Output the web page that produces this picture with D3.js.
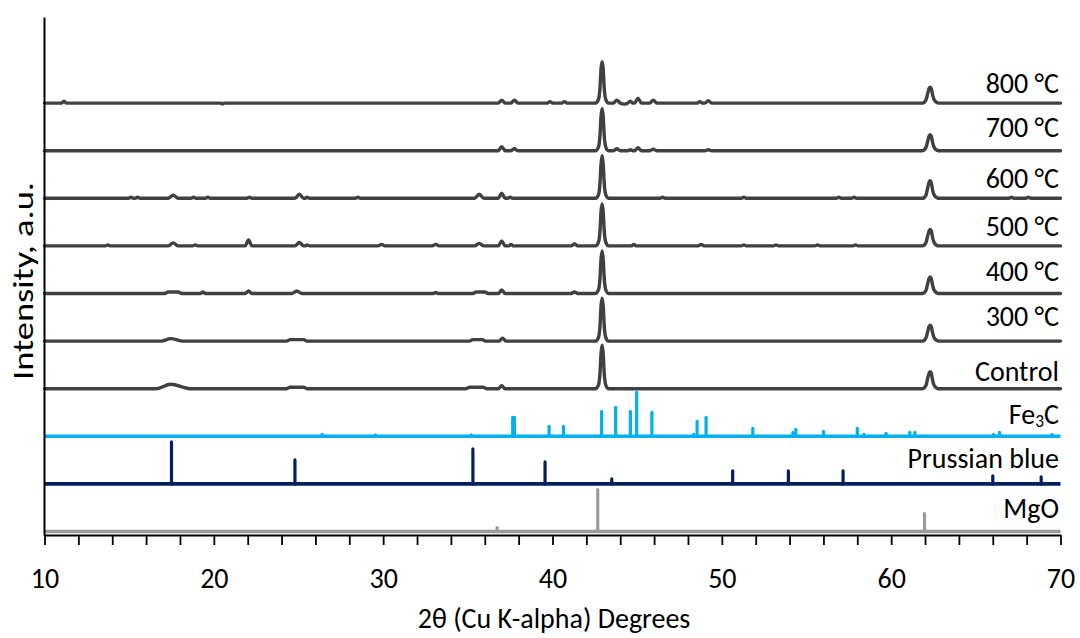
<!DOCTYPE html>
<html>
<head>
<meta charset="utf-8">
<script src="https://cdn.jsdelivr.net/npm/d3@7"></script>
<style>
  html, body { margin: 0; padding: 0; background: #ffffff; }
  svg { display: block; }
  text { font-family: Carlito, Calibri, Lato, "Noto Sans", sans-serif; fill: #000; }
</style>
</head>
<body>
<svg id="chart" width="1080" height="638"></svg>
<script>
// ---------------- DATA ----------------
const xTickLabels = [10, 20, 30, 40, 50, 60, 70];
const xTitle = "2θ (Cu K-alpha) Degrees";
const yTitle = "Intensity, a.u.";

// measured patterns, top to bottom: [2θ, intensity above the pattern's own baseline]
const traceNames = ["800 °C", "700 °C", "600 °C", "500 °C", "400 °C", "300 °C", "Control"];

const trace800 = [[10,0],[11.0,0],[11.15,2],[11.3,0],[20.4,0],[20.5,-1],[20.6,0],[36.8,0],[37.0,3],[37.2,0],[37.55,0],[37.75,3],[37.95,0],[39.7,0],[39.85,1.5],[40.0,0],[40.55,0],[40.7,1.5],[40.85,0],[42.55,0],[42.72,4],[42.8,14],[42.87,35],[42.93,41.5],[42.99,35],[43.06,14],[43.14,4],[43.3,0],[43.6,0],[43.8,3],[44.0,0],[44.25,-1],[44.45,0],[44.6,2],[44.75,0],[44.85,0],[45.05,5],[45.25,0],[45.75,0],[45.95,3],[46.15,0],[48.55,0],[48.7,1.5],[48.85,0],[49.0,0],[49.2,2.5],[49.4,0],[61.85,0],[62.05,3],[62.15,9],[62.25,15],[62.3,16],[62.37,14.5],[62.45,8],[62.55,3],[62.8,0],[70,0]];

const trace700 = [[10,0],[36.8,0],[37.0,4],[37.2,0],[37.55,0],[37.75,2],[37.95,0],[42.55,0],[42.72,4],[42.8,14],[42.87,35],[42.93,42],[42.99,35],[43.06,14],[43.14,4],[43.3,0],[43.6,0],[43.8,2],[44.0,0],[44.45,0],[44.6,1],[44.75,0],[44.85,0],[45.05,3],[45.25,0],[45.75,0],[45.95,1.5],[46.15,0],[49.0,0],[49.2,1],[49.4,0],[61.85,0],[62.05,3],[62.15,9],[62.25,15],[62.3,16],[62.37,14.5],[62.45,8],[62.55,3],[62.8,0],[70,0]];

const trace600 = [[10,0],[14.95,0],[15.1,1],[15.25,0],[15.35,0],[15.5,1],[15.65,0],[17.3,0],[17.6,3],[17.9,0],[18.65,0],[18.8,1],[18.95,0],[19.5,0],[19.65,1],[19.8,0],[21.95,0],[22.1,1],[22.25,0],[24.8,0],[25.05,4],[25.3,0],[25.4,0],[25.5,1],[25.65,0],[28.35,0],[28.5,1],[28.65,0],[35.4,0],[35.67,4],[35.95,0],[36.8,0],[37.0,5],[37.2,0],[37.35,0],[37.5,1],[37.65,0],[42.55,0],[42.72,4],[42.8,14],[42.87,35],[42.93,42.5],[42.99,35],[43.06,14],[43.14,4],[43.3,0],[46.35,0],[46.5,1],[46.65,0],[51.15,0],[51.3,1],[51.45,0],[56.75,0],[56.9,1],[57.05,0],[57.65,0],[57.8,1],[57.95,0],[61.85,0],[62.05,3],[62.15,10],[62.25,16.5],[62.3,17.5],[62.37,15.5],[62.45,8],[62.55,3],[62.8,0],[66.95,0],[67.1,1],[67.25,0],[67.95,0],[68.1,1],[68.25,0],[70,0]];

const trace500 = [[10,0],[13.6,0],[13.74,1],[13.9,0],[17.3,0],[17.6,3],[17.9,0],[18.75,0],[18.9,1],[19.05,0],[21.85,0],[22.05,6],[22.25,0],[24.8,0],[25.05,3.5],[25.3,0],[25.4,0],[25.5,1],[25.65,0],[29.7,0],[29.9,1.5],[30.1,0],[32.9,0],[33.1,1.5],[33.3,0],[35.4,0],[35.67,2.5],[35.95,0],[36.8,0],[37.0,5],[37.2,0],[37.4,0],[37.55,1.5],[37.7,0],[41.1,0],[41.3,2],[41.5,0],[42.55,0],[42.72,4],[42.8,14],[42.87,35],[42.93,42],[42.99,35],[43.06,14],[43.14,4],[43.3,0],[44.65,0],[44.8,1.5],[44.95,0],[48.6,0],[48.78,1.5],[48.95,0],[51.15,0],[51.3,1],[51.45,0],[53.05,0],[53.2,1],[53.35,0],[55.5,0],[55.65,1],[55.8,0],[57.75,0],[57.9,1],[58.05,0],[61.85,0],[62.05,3],[62.15,9.5],[62.25,15.5],[62.3,16.5],[62.37,15],[62.45,8],[62.55,3],[62.8,0],[70,0]];

const trace400 = [[10,0],[17.1,0],[17.3,1.5],[17.9,1.5],[18.1,0],[19.2,0],[19.35,1.5],[19.5,0],[21.85,0],[22.05,2.5],[22.25,0],[24.6,0],[24.9,2.5],[25.2,0],[32.95,0],[33.1,1],[33.25,0],[35.3,0],[35.5,1.5],[36.0,1.5],[36.2,0],[36.8,0],[37.0,3.5],[37.2,0],[41.1,0],[41.3,1.5],[41.5,0],[42.55,0],[42.72,4],[42.8,14],[42.87,35],[42.93,42.5],[42.99,35],[43.06,14],[43.14,4],[43.3,0],[61.85,0],[62.05,3],[62.15,9.5],[62.25,15.5],[62.3,16.5],[62.37,15],[62.45,8],[62.55,3],[62.8,0],[70,0]];

const trace300 = [[10,0],[16.9,0],[17.45,2.5],[18.2,0],[24.3,0],[24.5,1.5],[25.3,1.5],[25.5,0],[35.1,0],[35.3,1.5],[35.85,1.5],[36.05,0],[36.85,0],[37.05,3],[37.25,0],[42.55,0],[42.72,4],[42.8,14],[42.87,36],[42.93,43],[42.99,36],[43.06,14],[43.14,4],[43.3,0],[61.85,0],[62.05,3],[62.15,9],[62.25,15],[62.3,16],[62.37,14.5],[62.45,8],[62.55,3],[62.8,0],[70,0]];

const traceControl = [[10,0],[16.6,0],[17.45,4.5],[18.6,0],[24.3,0],[24.5,1.5],[25.3,1.5],[25.5,0],[34.9,0],[35.1,1.5],[35.9,1.5],[36.1,0],[36.8,0],[37.0,3],[37.2,0],[42.55,0],[42.72,4],[42.8,14],[42.87,36],[42.93,43.5],[42.99,36],[43.06,14],[43.14,4],[43.3,0],[61.85,0],[62.05,3],[62.15,10],[62.25,16],[62.3,17],[62.37,15.5],[62.45,8],[62.55,3],[62.8,0],[70,0]];

const traces = [trace800, trace700, trace600, trace500, trace400, trace300, traceControl];

// reference stick patterns: [2θ, relative intensity]
const refNames = ["Fe₃C", "Prussian blue", "MgO"];
const sticksFe3C = [[26.4,2],[29.55,1.5],[35.2,1.5],[37.65,19],[37.75,19],[39.8,10],[40.65,10],[42.9,25],[43.73,29],[44.6,25],[44.97,44],[45.87,24],[48.35,2],[48.54,15],[49.07,19],[51.83,8],[54.2,4],[54.37,7],[56.0,5],[58.0,8],[58.4,2],[59.7,3],[61.1,4],[61.4,4],[66.05,2],[66.4,4],[69.5,2]];
const sticksPrussian = [[17.5,42],[24.79,24],[35.3,35],[39.56,22],[43.5,5],[50.64,13],[53.93,13],[57.16,13],[66.0,8],[68.86,7]];
const sticksMgO = [[36.73,4],[42.67,42],[61.97,18]];
const sticks = [sticksFe3C, sticksPrussian, sticksMgO];

// ---------------- LAYOUT / STYLE ----------------
const svg = d3.select("#chart");
const x = d3.scaleLinear().domain([10, 70]).range([44.5, 1060.5]);
const y = d3.scaleLinear().domain([0, 518]).range([535, 17]);
const stackStep = 47.6, stackBase = 3.5;     // vertical offset (a.u.) between stacked patterns
const nAll = traces.length + sticks.length;   // 10 patterns
const offsetOf = i => stackBase + (nAll - 1 - i) * stackStep;

const traceColor = "#404040";
const refColors = ["#00b0f0", "#002060", "#9a9a9a"];
const labelGap = [10, 14, 10, 9.5, 12.5, 15, 7.6, 12.7, 15.7, 14]; // px, label baseline above pattern baseline
const labelFont = 28;

// measured patterns
const line = d3.line().curve(d3.curveMonotoneX);
traces.forEach((t, i) => {
  const off = offsetOf(i);
  svg.append("path")
    .attr("d", line(t.map(d => [x(d[0]), y(d[1] + off)])))
    .attr("fill", "none")
    .attr("stroke", traceColor)
    .attr("stroke-width", 3.4)
    .attr("stroke-linejoin", "round")
    .attr("stroke-linecap", "round");
});

// reference patterns (baseline + sticks)
sticks.forEach((s, j) => {
  const i = traces.length + j;
  const off = offsetOf(i);
  const g = svg.append("g");
  g.append("line")
    .attr("x1", x(10)).attr("x2", x(70))
    .attr("y1", y(off)).attr("y2", y(off))
    .attr("stroke", refColors[j]).attr("stroke-width", 3.6);
  g.selectAll("line.stick").data(s).join("line")
    .attr("class", "stick")
    .attr("x1", d => x(d[0])).attr("x2", d => x(d[0]))
    .attr("y1", y(off)).attr("y2", d => y(off + d[1]))
    .attr("stroke", refColors[j]).attr("stroke-width", 3.2)
    .attr("stroke-linecap", "round");
});

// pattern labels
const allNames = traceNames.concat(refNames);
allNames.forEach((name, i) => {
  const ty = y(offsetOf(i)) - labelGap[i];
  const t = svg.append("text")
    .attr("x", 1059).attr("y", ty)
    .attr("text-anchor", "end")
    .attr("font-size", labelFont);
  if (name === "Fe₃C") {
    t.append("tspan").text("Fe");
    t.append("tspan").text("3").attr("font-size", labelFont * 0.62).attr("dy", 3);
    t.append("tspan").text("C").attr("dy", -3);
  } else {
    t.text(name);
  }
});

// x axis
const xAxis = d3.axisBottom(x)
  .tickValues(d3.range(10, 71, 2))
  .tickSize(10)
  .tickSizeOuter(0)
  .tickFormat(d => xTickLabels.includes(d) ? d : "");
const gx = svg.append("g").attr("transform", "translate(0,535)").call(xAxis);
gx.select(".domain").attr("stroke", "#000").attr("stroke-width", 2);
gx.selectAll(".tick line").attr("stroke", "#000").attr("stroke-width", 1.8);
gx.selectAll(".tick text")
  .attr("y", 53).attr("dy", 0)
  .attr("font-size", labelFont)
  .attr("font-family", "Carlito, Calibri, Lato, sans-serif")
  .attr("fill", "#000");

// y axis (no ticks)
const gy = svg.append("g").attr("transform", "translate(44,0)")
  .call(d3.axisLeft(y).tickValues([]).tickSizeOuter(0));
gy.select(".domain").attr("stroke", "#000").attr("stroke-width", 2);

// axis titles
svg.append("text")
  .attr("x", 554).attr("y", 628)
  .attr("text-anchor", "middle")
  .attr("font-size", labelFont)
  .text(xTitle);

svg.append("text")
  .attr("transform", "translate(33,281) rotate(-90)")
  .attr("text-anchor", "middle")
  .attr("font-size", labelFont)
  .attr("textLength", 198)
  .attr("lengthAdjust", "spacingAndGlyphs")
  .text(yTitle);
</script>
</body>
</html>
